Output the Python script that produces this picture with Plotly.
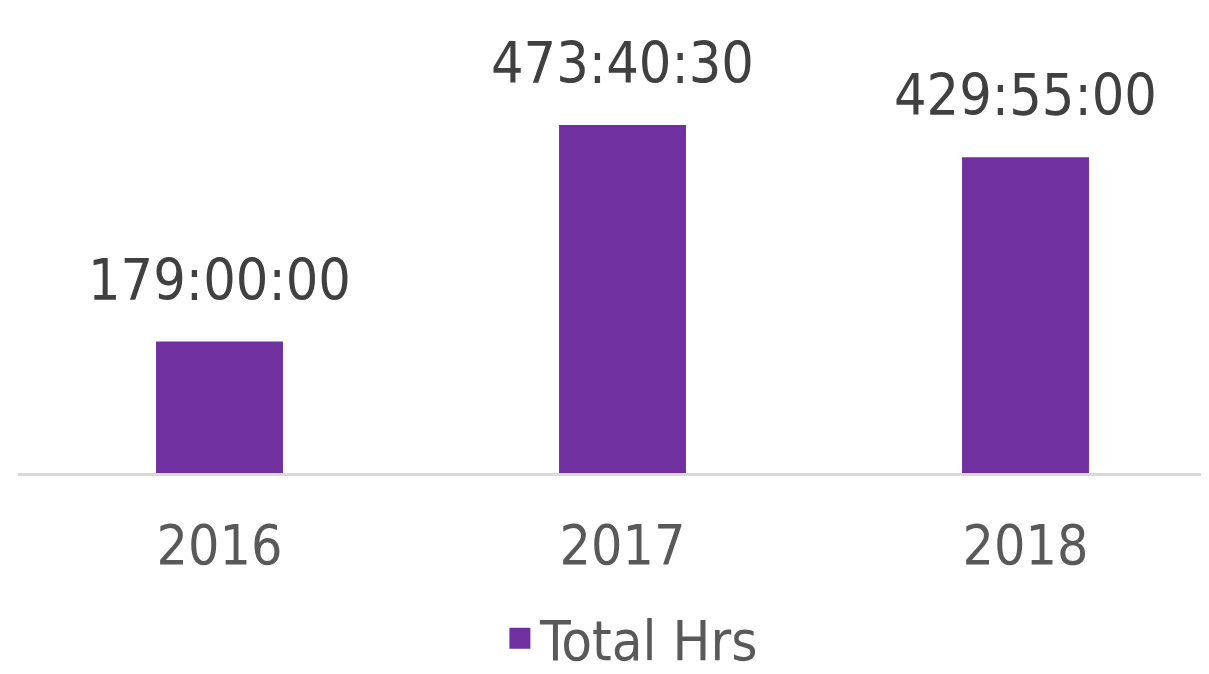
import plotly.graph_objects as go

years = ["2016", "2017", "2018"]
hours = [179.0, 473 + 40/60 + 30/3600, 429 + 55/60]
labels = ["179:00:00", "473:40:30", "429:55:00"]
series_name = "Total Hrs"

PURPLE = "#7030A0"
FONT = "DejaVu Sans Condensed, Liberation Sans, sans-serif"

xpos = list(range(len(years)))

fig = go.Figure()
fig.add_trace(go.Bar(
    x=xpos, y=hours, width=0.315, marker=dict(color=PURPLE, line=dict(width=0)),
    showlegend=False, name=series_name,
))
# legend proxy
fig.add_trace(go.Scatter(
    x=[None], y=[None], mode="markers", name=series_name,
    marker=dict(symbol="square", size=16, color=PURPLE, line=dict(color=PURPLE, width=5)),
))

for x, y, t in zip(xpos, hours, labels):
    fig.add_annotation(x=x, y=y, text=t, showarrow=False, yanchor="middle",
                       yshift=62, font=dict(family=FONT, size=57, color="#404040"))

fig.update_layout(
    width=1209, height=666,
    margin=dict(l=10, r=0, t=12, b=201, autoexpand=False),
    plot_bgcolor="white", paper_bgcolor="white",
    font=dict(family=FONT, color="#595959"),
    xaxis=dict(range=[-0.5, -0.5 + 1199/403], tickvals=xpos, ticktext=years,
               showgrid=False, zeroline=False, showline=True, linecolor="#D9D9D9", linewidth=2.5,
               ticks="", tickfont=dict(family=FONT, size=55, color="#595959"),
               ticklabelstandoff=22, automargin=False),
    yaxis=dict(range=[0, 453/0.7345], visible=False, showgrid=False, zeroline=False),
    showlegend=True,
    legend=dict(orientation="h", x=0.512, xanchor="center", xref="paper",
                y=-0.365, yanchor="middle", yref="paper",
                font=dict(family=FONT, size=56, color="#595959"),
                itemwidth=30, bgcolor="rgba(0,0,0,0)"),
)

fig.write_html("out.html")
